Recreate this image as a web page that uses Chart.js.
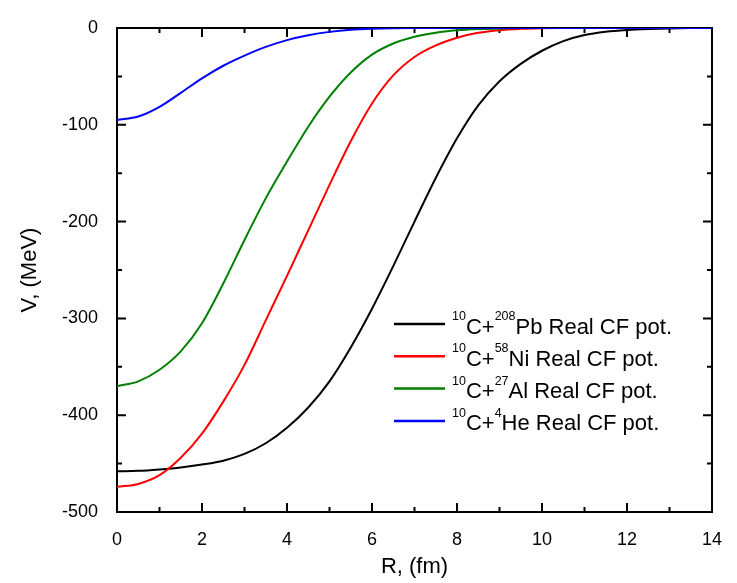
<!DOCTYPE html>
<html>
<head>
<meta charset="utf-8">
<script src="https://cdn.jsdelivr.net/npm/chart.js@4"></script>
<style>
  html, body { margin: 0; padding: 0; background: #fff; }
  #wrap { width: 737px; height: 583px; }
</style>
</head>
<body>
<div id="wrap"><canvas id="cfChart"></canvas></div>
<script>
// R grid (fm) and potentials (MeV)
const rValues = [0, 0.5, 1, 1.5, 2, 2.5, 3, 3.5, 4, 4.5, 5, 5.5, 6, 6.5, 7,
                 7.5, 8, 8.5, 9, 9.5, 10, 10.5, 11, 11.5, 12, 12.5, 13, 13.5, 14];
const potPb = [-458, -457.5, -456, -454, -451, -447, -440, -429, -413, -392, -365, -330, -290, -246, -200,
               -155, -114, -80, -55, -37, -23.5, -13.5, -7.2, -3.8, -2, -1, -0.4, -0.1, 0];
const potNi = [-474, -471, -462, -444, -419, -386, -348, -302, -256, -209, -162, -117, -78, -49, -30,
               -18, -10, -5, -2.2, -0.9, -0.3, -0.1, 0, 0, 0, 0, 0, 0, 0];
const potAl = [-370, -365, -353, -334, -305, -264, -219, -176, -138, -102, -71, -46, -27.5, -16, -9,
               -4.8, -2.4, -1.1, -0.4, -0.1, 0, 0, 0, 0, 0, 0, 0, 0, 0];
const potHe = [-95, -91.5, -81.5, -67, -52, -39, -28.5, -19.5, -12.5, -7.5, -4, -1.8, -0.7, -0.2, 0,
               0, 0, 0, 0, 0, 0, 0, 0, 0, 0, 0, 0, 0, 0];

const seriesNames = [
  { sup: '10', a: 'C+', sup2: '208', b: 'Pb Real CF pot.' },
  { sup: '10', a: 'C+', sup2: '58', b: 'Ni Real CF pot.' },
  { sup: '10', a: 'C+', sup2: '27', b: 'Al Real CF pot.' },
  { sup: '10', a: 'C+', sup2: '4', b: 'He Real CF pot.' }
];
const seriesColors = ['#000000', '#ff0000', '#008000', '#0000ff'];
const seriesData = [potPb, potNi, potAl, potHe];

const xMajor = [0, 2, 4, 6, 8, 10, 12, 14];
const xMinor = [1, 3, 5, 7, 9, 11, 13];
const yMajor = [0, -100, -200, -300, -400, -500];
const yMinor = [-50, -150, -250, -350, -450];

const FONT = "'Liberation Sans', Arial, sans-serif";

function toPoints(vals) {
    return vals.map((v, i) => ({ x: rValues[i], y: v }));
}

// frame + inward ticks, drawn before the curves so the blue line sits on top
const frameTicks = {
    id: 'frameTicks',
    beforeDatasetsDraw(chart) {
        const ctx = chart.ctx;
        const a = chart.chartArea;
        const xs = chart.scales.x, ys = chart.scales.y;
        ctx.save();
        ctx.strokeStyle = '#000';
        ctx.lineWidth = 2;
        ctx.strokeRect(a.left, a.top, a.right - a.left, a.bottom - a.top);
        ctx.beginPath();
        xMajor.forEach(v => {
            const px = xs.getPixelForValue(v);
            ctx.moveTo(px, a.bottom); ctx.lineTo(px, a.bottom - 9);
            ctx.moveTo(px, a.top); ctx.lineTo(px, a.top + 9);
        });
        xMinor.forEach(v => {
            const px = xs.getPixelForValue(v);
            ctx.moveTo(px, a.bottom); ctx.lineTo(px, a.bottom - 5);
            ctx.moveTo(px, a.top); ctx.lineTo(px, a.top + 5);
        });
        yMajor.forEach(v => {
            const py = ys.getPixelForValue(v);
            ctx.moveTo(a.left, py); ctx.lineTo(a.left + 9, py);
            ctx.moveTo(a.right, py); ctx.lineTo(a.right - 9, py);
        });
        yMinor.forEach(v => {
            const py = ys.getPixelForValue(v);
            ctx.moveTo(a.left, py); ctx.lineTo(a.left + 5, py);
            ctx.moveTo(a.right, py); ctx.lineTo(a.right - 5, py);
        });
        ctx.stroke();
        ctx.restore();
    },
    afterDraw(chart) {
        // legend with superscripts
        const ctx = chart.ctx;
        const main = '22px ' + FONT, small = '12.5px ' + FONT;
        ctx.save();
        ctx.textBaseline = 'alphabetic';
        ctx.fillStyle = '#000';
        seriesNames.forEach((n, i) => {
            const y = 324 + i * 32.3;
            ctx.strokeStyle = seriesColors[i];
            ctx.lineWidth = 2.5;
            ctx.beginPath();
            ctx.moveTo(394, y); ctx.lineTo(445, y);
            ctx.stroke();
            let x = 452;
            ctx.font = small; ctx.fillText(n.sup, x, y - 4); x += ctx.measureText(n.sup).width;
            ctx.font = main; ctx.fillText(n.a, x, y + 9.5); x += ctx.measureText(n.a).width;
            ctx.font = small; ctx.fillText(n.sup2, x, y - 4); x += ctx.measureText(n.sup2).width;
            ctx.font = main; ctx.fillText(n.b, x, y + 9.5);
        });
        ctx.restore();
    }
};

const datasets = seriesData.map((vals, i) => ({
    label: seriesNames[i].b,
    data: toPoints(vals),
    borderColor: seriesColors[i],
    borderWidth: 2,
    pointRadius: 0,
    fill: false,
    cubicInterpolationMode: 'monotone',
    order: 3 - i
}));

new Chart(document.getElementById('cfChart'), {
    type: 'line',
    data: { datasets: datasets },
    options: {
        responsive: true,
        maintainAspectRatio: false,
        animation: false,
        layout: { padding: { top: 28, right: 25, left: 0, bottom: 0 } },
        plugins: {
            legend: { display: false },
            tooltip: { enabled: false }
        },
        scales: {
            x: {
                type: 'linear',
                min: 0, max: 14,
                grid: { display: false },
                border: { display: false },
                ticks: { stepSize: 2, padding: 9, color: '#000', font: { family: FONT, size: 18 } },
                title: { display: true, text: 'R, (fm)', color: '#000',
                         font: { family: FONT, size: 22 }, padding: { top: 3, bottom: 3 } },
                afterFit(scale) { scale.height = 71; }
            },
            y: {
                min: -500, max: 0,
                grid: { display: false },
                border: { display: false },
                ticks: { stepSize: 100, padding: 11, color: '#000', font: { family: FONT, size: 18 } },
                title: { display: true, text: 'V, (MeV)', color: '#000',
                         font: { family: FONT, size: 22 }, padding: { top: 17, bottom: 17 } },
                afterFit(scale) { scale.width = 117; }
            }
        }
    },
    plugins: [frameTicks]
});
</script>
</body>
</html>
